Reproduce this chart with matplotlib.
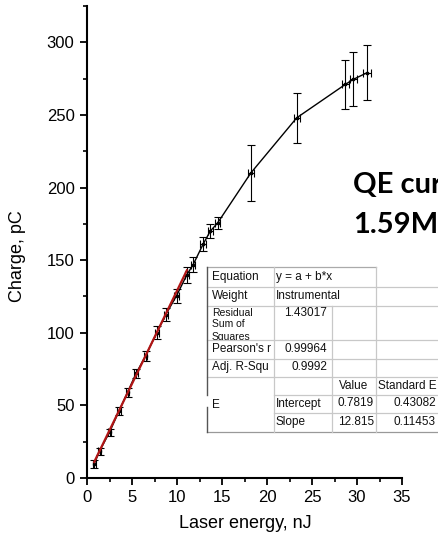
import matplotlib
matplotlib.use("Agg")
import matplotlib.pyplot as plt
from matplotlib.lines import Line2D
from matplotlib.ticker import MultipleLocator
import numpy as np

plt.rcParams["font.family"] = ["Liberation Sans", "DejaVu Sans"]

# Data
energy = [0.8, 1.4, 2.5, 3.55, 4.5, 5.45, 6.5, 7.75, 8.75, 9.95, 11.1,
          11.8, 12.9, 13.7, 14.5, 18.2, 23.3, 28.7, 29.6, 31.1]
charge = [9.7, 18.5, 31.5, 46, 59, 72, 84, 100, 112.5, 125.5, 140,
          147, 161, 170, 175.5, 210, 248, 271, 274.5, 279]
charge_err = [3, 2.5, 2.5, 2.7, 3, 3, 3.5, 4.5, 4.5, 4.8, 5.5,
              5, 5, 5, 4, 19, 17, 17, 18.5, 19]
energy_err = [0.15, 0.15, 0.2, 0.2, 0.2, 0.2, 0.2, 0.2, 0.25, 0.25, 0.25,
              0.25, 0.3, 0.3, 0.3, 0.3, 0.35, 0.4, 0.4, 0.45]
fit_intercept = 0.7819
fit_slope = 12.815
fit_range = [0.8, 11.1]

W, H = 438, 535
fig = plt.figure(figsize=(W / 100, H / 100), dpi=100)
ax = fig.add_axes([87 / W, 1 - 478 / H, (402 - 87) / W, (478 - 6) / H])

font = "Liberation Sans"
fx = np.array(fit_range)
ax.plot(fx, fit_intercept + fit_slope * fx, color="#b01515", lw=1.6, zorder=3)
ax.errorbar(energy, charge, yerr=charge_err, xerr=energy_err, color="black",
            lw=1.0, elinewidth=0.8, capsize=3, capthick=0.8, marker="s",
            ms=2, zorder=2)

ax.set_xlim(0, 35)
ax.set_ylim(0, 325)
ax.xaxis.set_major_locator(MultipleLocator(5))
ax.xaxis.set_minor_locator(MultipleLocator(2.5))
ax.yaxis.set_major_locator(MultipleLocator(50))
ax.yaxis.set_minor_locator(MultipleLocator(25))
for s in ["top", "right"]:
    ax.spines[s].set_visible(False)
for s in ["left", "bottom"]:
    ax.spines[s].set_linewidth(1.5)
ax.tick_params(which="major", direction="out", length=5, width=1.3,
               labelsize=12, pad=4)
ax.tick_params(which="minor", direction="out", length=3, width=1.2)
ax.patch.set_alpha(0)

fig.text(18 / W, 1 - 256 / H, "Charge, pC", rotation=90, ha="center",
         va="center", fontsize=13, family=font)
fig.text(245 / W, 1 - 524 / H, "Laser energy, nJ", ha="center",
         va="center", fontsize=13, family=font)

# slide text (partly clipped at the right edge, as in the reference)
fig.text(353 / W, 1 - 193 / H, "QE cur", fontsize=21, fontweight="bold",
         family="Lato", ha="left", va="baseline")
fig.text(353 / W, 1 - 233 / H, "1.59M", fontsize=21, fontweight="bold",
         family="Lato", ha="left", va="baseline")

# fit results table
def hline(y, x0, x1, c="#c8c8c8", lw=0.9):
    fig.add_artist(Line2D([x0 / W, x1 / W], [1 - y / H, 1 - y / H],
                          color=c, lw=lw, transform=fig.transFigure))

def vline(x, y0, y1, c="#c8c8c8", lw=0.9):
    fig.add_artist(Line2D([x / W, x / W], [1 - y0 / H, 1 - y1 / H],
                          color=c, lw=lw, transform=fig.transFigure))

def txt(x, y, s, ha="left", size=8.5):
    return fig.text(x / W, 1 - y / H, s, ha=ha, va="center", fontsize=size,
                    family=font, color="#111111")

c1, c2, c3, c4 = 207, 274, 332, 376
hline(267, c1, c4, c="#aaaaaa")
for y in [287, 306, 340, 359, 377]:
    hline(y, c1, W)
hline(395, c2, W)
hline(413, c2, W)
hline(432, c1, W, c="#999999")
vline(c1, 267, 395, c="#555555", lw=1.0)
vline(c1, 407, 432, c="#555555", lw=1.0)
vline(c2, 267, 432)
vline(c3, 306, 432)
vline(c4, 267, 432)

txt(212, 277, "Equation")
txt(276, 277, "y = a + b*x")
txt(212, 296, "Weight")
txt(276, 296, "Instrumental")
txt(212, 312.5, "Residual", size=7.5)
txt(212, 324, "Sum of", size=7.5)
t = txt(212, 336.5, "Squares", size=7.5)
t.set_clip_box(matplotlib.transforms.Bbox.from_extents(0, H - 340, W, H))
txt(327, 312.5, "1.43017", ha="right")
txt(212, 349, "Pearson's r")
txt(327, 349, "0.99964", ha="right")
txt(212, 367, "Adj. R-Squ")
txt(327, 367, "0.9992", ha="right")
txt(354, 386, "Value", ha="center")
txt(378, 386, "Standard E")
txt(212, 405, "E")
txt(276, 403.5, "Intercept")
txt(374, 403.5, "0.7819", ha="right")
txt(436, 403.5, "0.43082", ha="right")
txt(276, 422, "Slope")
txt(374, 422, "12.815", ha="right")
txt(436, 422, "0.11453", ha="right")

fig.savefig("out.png", dpi=100)
